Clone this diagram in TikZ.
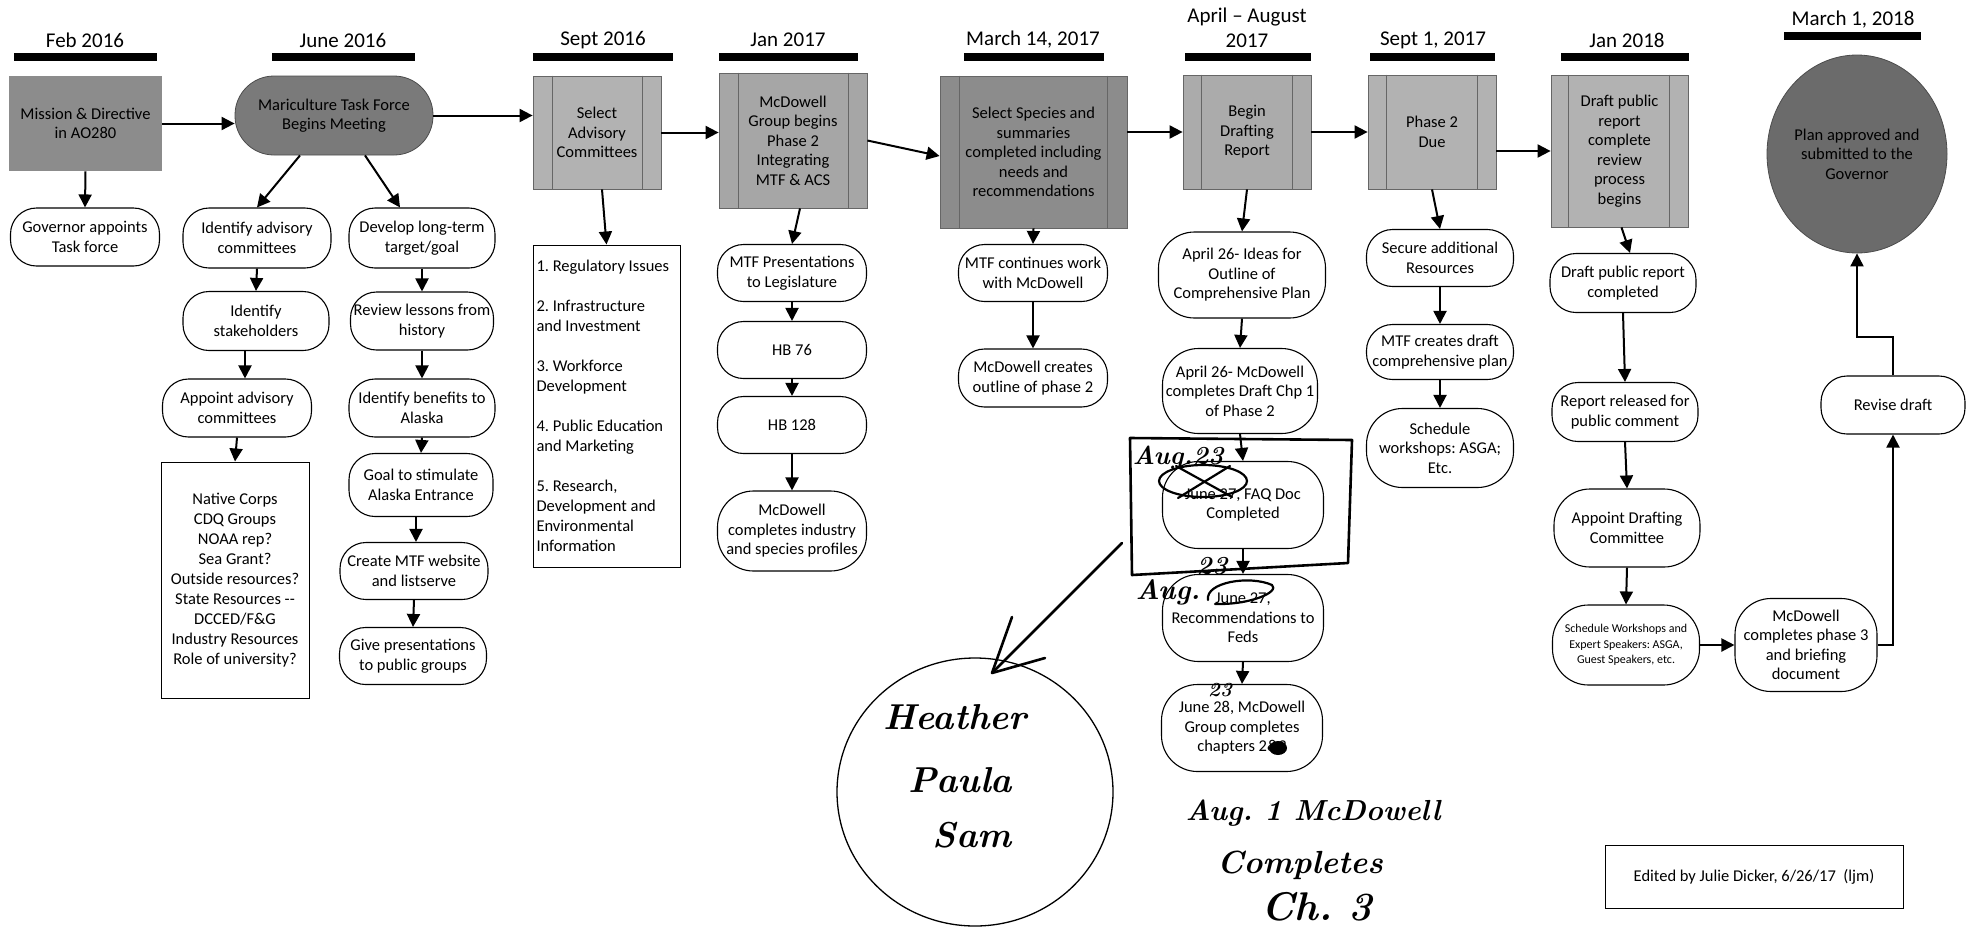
\documentclass[tikz,border=0pt]{standalone}
\usepackage{fontspec}
\newfontfamily\calfont{Carlito}[Ligatures=TeX]
\usetikzlibrary{arrows.meta,shapes.geometric}
\newcommand\handf[1]{\rmfamily\bfseries\itshape\fontsize{#1}{#1}\selectfont}
\frenchspacing
\begin{document}
\frenchspacing
\begin{tikzpicture}[x=1pt,y=-1pt,
  font=\calfont\fontsize{16.5}{19.5}\selectfont,
  hdr/.style={font=\calfont\fontsize{21}{25}\selectfont, align=center, inner sep=0pt},
  pill/.style={draw, line width=1.1pt, fill=white, rounded corners=26pt, align=center, inner sep=0pt},
  pillb/.style={pill, rounded corners=36pt},
  proc/.style={draw=black!60, line width=0.8pt, align=center, inner sep=0pt},
  arr/.style={line width=2pt, -{Triangle[length=13pt,width=13pt]}},
  hand/.style={line width=2.6pt, line cap=round, line join=round},
  thinhand/.style={line width=1.3pt, line cap=round}]
\useasboundingbox (0,0) rectangle (1967,943);

% ---------- headers ----------
\node[hdr] (h1) at (85,40) {Feb 2016};
\node[hdr] (h2) at (343,40) {June 2016};
\node[hdr] (h3) at (603,40) {Sept 2016};
\node[hdr] (h4) at (788,40) {Jan 2017};
\node[hdr] (h5) at (1033,40) {March 14, 2017};
\node[hdr] (h6) at (1247,27.5) {April – August\\2017};
\node[hdr] (h7) at (1433,40) {Sept 1, 2017};
\node[hdr] (h8) at (1627,40) {Jan 2018};
\node[hdr] (h9) at (1853,20) {March 1, 2018};
\fill (14,53) rectangle (157,61);
\fill (272,53) rectangle (415,61);
\fill (533,53) rectangle (673,61);
\fill (719,53) rectangle (858,61);
\fill (964,53) rectangle (1104,61);
\fill (1185,53) rectangle (1311,61);
\fill (1370,53) rectangle (1495,61);
\fill (1561,53) rectangle (1689,61);
\fill (1784,32) rectangle (1921,40);

% ---------- top row ----------
\node[proc, draw=none, fill=black!45, minimum width=153pt, minimum height=95pt] (mis) at (85.5,123.5) {Mission \& Directive\\in AO280};
\node[draw=black!70, line width=0.8pt, fill=black!52, rounded corners=39pt, minimum width=198pt, minimum height=79pt, align=center, inner sep=0pt] (mtf) at (334,115.5) {Mariculture Task Force\\Begins Meeting};
\node[proc, fill=black!30, minimum width=128pt, minimum height=113pt] (sel) at (597,132.5) {Select\\Advisory\\Committees};
\node[proc, fill=black!35, minimum width=148pt, minimum height=135pt] (mcd) at (793,140.5) {McDowell\\Group begins\\Phase 2\\Integrating\\MTF \& ACS};
\node[proc, fill=black!45, minimum width=187pt, minimum height=152pt] (spc) at (1033.5,152) {Select Species and\\summaries\\completed including\\needs and\\recommendations};
\node[proc, fill=black!33, minimum width=128pt, minimum height=114pt] (bdr) at (1247,132) {Begin\\Drafting\\Report};
\node[proc, fill=black!30, minimum width=128pt, minimum height=114pt] (ph2) at (1432,132) {Phase 2\\Due};
\node[proc, fill=black!30, minimum width=137pt, minimum height=152pt] (dpr) at (1619.5,151) {Draft public\\report\\complete\\review\\process\\begins};
\node[ellipse, draw=black!70, line width=0.8pt, fill=black!58, minimum width=180pt, minimum height=198pt, align=center, inner sep=0pt] (fin) at (1857,154) {Plan approved and\\submitted to the\\Governor};

% inner lines of the process boxes
\foreach \b/\l/\r in {sel/20/19, mcd/20/19, spc/20/20, bdr/19/19, ph2/19/19, dpr/18/19}{
  \draw[black!60, line width=0.8pt] ([xshift=\l pt]\b.north west) -- ([xshift=\l pt]\b.south west);
  \draw[black!60, line width=0.8pt] ([xshift=-\r pt]\b.north east) -- ([xshift=-\r pt]\b.south east);
}

% ---------- column 1 ----------
\node[pill, minimum width=149pt, minimum height=58pt] (gova) at (85,237) {Governor appoints\\Task force};

% ---------- column 2 ----------
\node[pill, minimum width=148pt, minimum height=60pt] (ida) at (257,238) {Identify advisory\\committees};
\node[pill, minimum width=146pt, minimum height=59pt] (ids) at (256,321) {Identify\\stakeholders};
\node[pill, minimum width=149pt, minimum height=58pt] (apa) at (237,408) {Appoint advisory\\committees};
\node[draw, line width=1pt, minimum width=148pt, minimum height=236pt, align=center, inner sep=0pt, font=\calfont\fontsize{16.5}{20}\selectfont] (lst) at (235,580) {Native Corps\\CDQ Groups\\NOAA rep?\\Sea Grant?\\Outside resources?\\State Resources -{}-\\DCCED/F\&G\\Industry Resources\\Role of university?};
\node[pill, minimum width=146pt, minimum height=60pt] (dlt) at (422,238) {Develop long-term\\target/goal};
\node[pill, minimum width=143pt, minimum height=58pt] (rlh) at (422,321) {Review lessons from\\history};
\node[pill, minimum width=146pt, minimum height=58pt] (iba) at (422,408) {Identify benefits to\\Alaska};
\node[pill, minimum width=144pt, minimum height=63pt] (gsa) at (421,485) {Goal to stimulate\\Alaska Entrance};
\node[pill, minimum width=148pt, minimum height=57pt] (cmw) at (414,571) {Create MTF website\\and listserve};
\node[pill, minimum width=147pt, minimum height=57pt] (gpp) at (413,656) {Give presentations\\to public groups};

% ---------- column 3 ----------
\node[draw, line width=1pt, minimum width=147pt, minimum height=322pt, text width=140pt, align=flush left, inner sep=0pt, font=\calfont\fontsize{16.5}{20}\selectfont] (reg) at (606.5,406) {1. Regulatory Issues\\[20pt]2. Infrastructure\\and Investment\\[20pt]3. Workforce\\Development\\[20pt]4. Public Education\\and Marketing\\[20pt]5. Research,\\Development and\\Environmental\\Information};

% ---------- column 4 ----------
\node[pill, minimum width=149pt, minimum height=57pt] (mtp) at (792,273) {MTF Presentations\\to Legislature};
\node[pill, minimum width=149pt, minimum height=57pt] (hb76) at (792,350) {HB 76};
\node[pill, minimum width=149pt, minimum height=57pt] (hb128) at (792,425) {HB 128};
\node[pillb, minimum width=149pt, minimum height=80pt] (mcp) at (792,531) {McDowell\\completes industry\\and species profiles};

% ---------- column 5 ----------
\node[pill, minimum width=149pt, minimum height=57pt] (mtc) at (1033,273) {MTF continues work\\with McDowell};
\node[pill, minimum width=149pt, minimum height=58pt] (mco) at (1033,378) {McDowell creates\\outline of phase 2};

% ---------- column 6 ----------
\node[pillb, minimum width=167pt, minimum height=86pt] (a26i) at (1242,275) {April 26- Ideas for\\Outline of\\Comprehensive Plan};
\node[pillb, minimum width=155pt, minimum height=85pt] (a26m) at (1240,391) {April 26- McDowell\\completes Draft Chp 1\\of Phase 2};
\node[pillb, minimum width=161pt, minimum height=87pt] (faq) at (1243,505) {June 27, FAQ Doc\\Completed};
\node[pillb, minimum width=161pt, minimum height=87pt] (rec) at (1243,618) {June 27,\\Recommendations to\\Feds};
\node[pillb, minimum width=161pt, minimum height=87pt] (j28) at (1242,728) {June 28, McDowell\\Group completes\\chapters 2\&3};

% ---------- column 7 ----------
\node[pill, minimum width=147pt, minimum height=57pt] (sar) at (1440,258) {Secure additional\\Resources};
\node[pill, minimum width=147pt, minimum height=55pt] (mcdp) at (1440,352) {MTF creates draft\\comprehensive plan};
\node[pillb, minimum width=147pt, minimum height=79pt] (sws) at (1440,448) {Schedule\\workshops: ASGA;\\Etc.};

% ---------- column 8 ----------
\node[pill, minimum width=146pt, minimum height=59pt] (dprc) at (1623,283) {Draft public report\\completed};
\node[pill, minimum width=146pt, minimum height=59pt] (rrp) at (1625,412) {Report released for\\public comment};
\node[pillb, minimum width=146pt, minimum height=78pt] (adc) at (1627,528) {Appoint Drafting\\Committee};
\node[pillb, minimum width=147pt, minimum height=80pt, font=\calfont\fontsize{12}{15.5}\selectfont] (swe) at (1626,645) {Schedule Workshops and\\Expert Speakers: ASGA,\\Guest Speakers, etc.};
\node[pillb, minimum width=142pt, minimum height=93pt] (mp3) at (1806,645) {McDowell\\completes phase 3\\and briefing\\document};
\node[pill, minimum width=144pt, minimum height=58pt] (rvd) at (1893,405) {Revise draft};

\node[draw, line width=1pt, minimum width=298pt, minimum height=63pt, inner sep=0pt] (edt) at (1754,877) {Edited by Julie Dicker, 6/26/17~~(ljm)};

% ---------- connectors ----------
\draw[arr] (mis.east) -- (mis.east -| mtf.west);
\draw[arr] (mtf.east) -- (mtf.east -| sel.west);
\draw[arr] (sel.east) -- (sel.east -| mcd.west);
\draw[arr] (mcd.east) -- ([yshift=-4pt]spc.west);
\draw[arr] (bdr.west -| spc.east) -- (bdr.west);
\draw[arr] (bdr.east) -- (ph2.west);
\draw[arr] (dpr.west -| ph2.east) -- (dpr.west);

\draw[arr] (mis.south) -- (gova.north);
\draw[arr] ([xshift=-34pt]mtf.south) -- (ida.north);
\draw[arr] ([xshift=31pt]mtf.south) -- ([xshift=-22pt]dlt.north);
\draw[arr] (ida.south) -- (ids.north);
\draw[arr] ([xshift=-11pt]ids.south) -- ([xshift=8pt]apa.north);
\draw[arr] (apa.south) -- (lst.north);
\draw[arr] (dlt.south) -- (rlh.north);
\draw[arr] (rlh.south) -- (iba.north);
\draw[arr] (iba.south) -- (gsa.north);
\draw[arr] ([xshift=-5pt]gsa.south) -- ([xshift=2pt]cmw.north);
\draw[arr] (cmw.south) -- (gpp.north);

\draw[arr] ([xshift=5pt]sel.south) -- (reg.north);
\draw[arr] ([xshift=7pt]mcd.south) -- (mtp.north);
\draw[arr] (mtp.south) -- (hb76.north);
\draw[arr] (hb76.south) -- (hb128.north);
\draw[arr] (hb128.south) -- (mcp.north);

\draw[arr] (spc.south) -- (mtc.north);
\draw[arr] (mtc.south) -- (mco.north);

\draw[arr] (bdr.south) -- (a26i.north);
\draw[arr] (a26i.south) -- (a26m.north);
\draw[arr] (a26m.south) -- (faq.north);
\draw[arr] (faq.south) -- (rec.north);
\draw[arr] (rec.south) -- (j28.north);

\draw[arr] (ph2.south) -- (sar.north);
\draw[arr] (sar.south) -- (mcdp.north);
\draw[arr] (mcdp.south) -- (sws.north);

\draw[arr] ([xshift=2pt]dpr.south) -- ([xshift=7pt]dprc.north);
\draw[arr] (dprc.south) -- (rrp.north);
\draw[arr] (rrp.south) -- (adc.north);
\draw[arr] (adc.south) -- (swe.north);
\draw[arr] (swe.east) -- (mp3.west);
\draw[arr] (mp3.east) -| (rvd.south);
\draw[arr] (rvd.north) -- ++(0,-38) -| (fin.south);

% ---------- handwritten annotations ----------
\draw[hand] (1130,438) -- (1352,440) -- (1348,563) -- (1132,575) -- cycle;
\node[ellipse, draw, line width=1.3pt, minimum width=276pt, minimum height=268pt, inner sep=0pt] (names) at (975,792) {};
\coordinate (hs) at (1122,543);
\coordinate (ht) at (992,673);
\draw[hand] (hs) -- (ht);
\draw[hand] (1012,617) -- (ht) -- (1045,658);
\node[inner sep=0pt] (n1) at (955,717) {\handf{36}Heather};
\node[inner sep=0pt] (n2) at (960,780) {\handf{36}Paula};
\node[inner sep=0pt] (n3) at (972,835) {\handf{36}Sam};
\node[inner sep=0pt] (c1) at (1313,813) {\handf{29}Aug. 1 McDowell};
\node[inner sep=0pt] (c2) at (1300,865) {\handf{32}Completes};
\node[inner sep=0pt] (c3) at (1317,907) {\handf{40}Ch. 3};
\node[inner sep=0pt] (a1) at (1178,458) {\handf{26}Aug.23};
\draw[thinhand, line width=2.2pt] (1203,481) ellipse [x radius=44, y radius=16];
\draw[thinhand, line width=2.2pt] (1176,466) -- (1232,497);
\draw[thinhand, line width=2.2pt] (1178,498) -- (1230,466);
\node[inner sep=0pt] (a2) at (1168,592) {\handf{28}Aug.};
\node[inner sep=0pt] (a3) at (1212,566) {\handf{26}23};
\draw[thinhand, line width=2.2pt] (1208,600) .. controls (1205,582) and (1250,575) .. (1272,585) .. controls (1280,592) and (1250,605) .. (1215,604);
\node[inner sep=0pt] (a4) at (1220,690) {\handf{20}23};
\fill (1278,748) ellipse [x radius=9, y radius=7];
\end{tikzpicture}
\end{document}
